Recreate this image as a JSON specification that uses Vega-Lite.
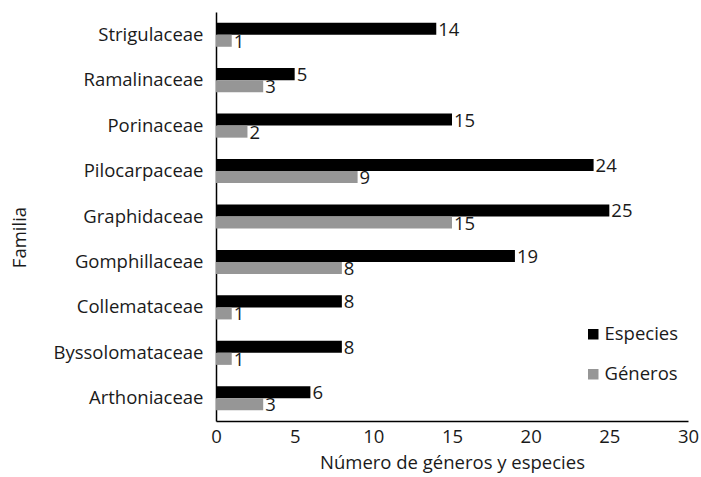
{
  "$schema": "https://vega.github.io/schema/vega-lite/v6.json",
  "width": 472,
  "height": 409,
  "autosize": {"type": "none"},
  "padding": {"left": 216, "top": 12, "right": 13, "bottom": 56},
  "background": "white",
  "config": {
    "font": "Open Sans",
    "view": {"stroke": null},
    "axis": {"labelFont": "Open Sans", "titleFont": "Open Sans", "labelColor": "#1a1a1a", "titleColor": "#1a1a1a"}
  },
  "data": {
    "values": [
      {"familia": "Strigulaceae", "serie": "Especies", "valor": 14},
      {"familia": "Strigulaceae", "serie": "Géneros", "valor": 1},
      {"familia": "Ramalinaceae", "serie": "Especies", "valor": 5},
      {"familia": "Ramalinaceae", "serie": "Géneros", "valor": 3},
      {"familia": "Porinaceae", "serie": "Especies", "valor": 15},
      {"familia": "Porinaceae", "serie": "Géneros", "valor": 2},
      {"familia": "Pilocarpaceae", "serie": "Especies", "valor": 24},
      {"familia": "Pilocarpaceae", "serie": "Géneros", "valor": 9},
      {"familia": "Graphidaceae", "serie": "Especies", "valor": 25},
      {"familia": "Graphidaceae", "serie": "Géneros", "valor": 15},
      {"familia": "Gomphillaceae", "serie": "Especies", "valor": 19},
      {"familia": "Gomphillaceae", "serie": "Géneros", "valor": 8},
      {"familia": "Collemataceae", "serie": "Especies", "valor": 8},
      {"familia": "Collemataceae", "serie": "Géneros", "valor": 1},
      {"familia": "Byssolomataceae", "serie": "Especies", "valor": 8},
      {"familia": "Byssolomataceae", "serie": "Géneros", "valor": 1},
      {"familia": "Arthoniaceae", "serie": "Especies", "valor": 6},
      {"familia": "Arthoniaceae", "serie": "Géneros", "valor": 3}
    ]
  },
  "encoding": {
    "y": {
      "field": "familia", "type": "nominal",
      "sort": ["Strigulaceae", "Ramalinaceae", "Porinaceae", "Pilocarpaceae", "Graphidaceae", "Gomphillaceae", "Collemataceae", "Byssolomataceae", "Arthoniaceae"],
      "scale": {"paddingInner": 0.47, "paddingOuter": 0.235},
      "axis": {"title": "Familia", "titleFontSize": 18.5, "titleFontWeight": "normal", "titleX": -197, "titleY": 225, "titleBaseline": "middle", "titleAlign": "center", "titleAngle": -90, "labelFontSize": 18.5, "ticks": false, "labelPadding": 13, "domainColor": "#000", "domainWidth": 1.5}
    },
    "yOffset": {"field": "serie", "type": "nominal", "sort": ["Especies", "Géneros"], "scale": {"paddingInner": 0}},
    "x": {
      "field": "valor", "type": "quantitative",
      "scale": {"domain": [0, 30], "nice": false},
      "axis": {"values": [0, 5, 10, 15, 20, 25, 30], "title": "Número de géneros y especies", "titleFontSize": 18.5, "titleFontWeight": "normal", "labelFontSize": 18.5, "labelFlush": false, "ticks": false, "grid": false, "labelPadding": 6, "domainColor": "#000", "domainWidth": 1.5, "titlePadding": 8}
    }
  },
  "layer": [
    {
      "mark": {"type": "bar"},
      "encoding": {
        "color": {
          "field": "serie", "type": "nominal",
          "sort": ["Especies", "Géneros"],
          "scale": {"domain": ["Especies", "Géneros"], "range": ["#000000", "#969696"]},
          "legend": {
            "title": null, "orient": "none", "legendX": 368, "legendY": 313,
            "symbolType": "square", "symbolSize": 110, "symbolStrokeWidth": 0,
            "labelFontSize": 18.5, "labelFont": "Open Sans", "labelColor": "#1a1a1a",
            "rowPadding": 21, "labelOffset": 2
          }
        }
      }
    },
    {
      "mark": {"type": "text", "align": "left", "baseline": "middle", "dx": 2, "dy": 1, "fontSize": 18.5, "color": "#1a1a1a"},
      "encoding": {"text": {"field": "valor", "type": "quantitative"}}
    }
  ]
}
